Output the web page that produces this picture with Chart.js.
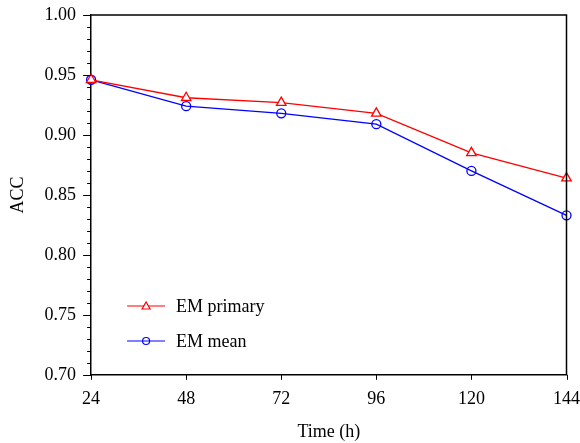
<!DOCTYPE html>
<html>
<head>
<meta charset="utf-8">
<script src="https://cdn.jsdelivr.net/npm/chart.js@4.4.0/dist/chart.umd.min.js"></script>
<style>
  html, body { margin: 0; padding: 0; background: #fff; }
  #wrap { width: 580px; height: 443px; }
</style>
</head>
<body>
<div id="wrap"><canvas id="myChart" width="580" height="443"></canvas></div>
<script>
// Data
var hours = [24, 48, 72, 96, 120, 144];
var emPrimary = [0.946, 0.931, 0.927, 0.918, 0.885, 0.864];
var emMean = [0.946, 0.924, 0.918, 0.909, 0.870, 0.833];
var xTicks = [24, 48, 72, 96, 120, 144];
var yMin = 0.70, yMax = 1.00, yStep = 0.05, yMinorStep = 0.01;

var font = "'Liberation Serif', 'Times New Roman', serif";
var fontSize = 18;

function toPoints(xs, ys) {
    return xs.map(function (x, i) { return { x: x, y: ys[i] }; });
}

// Frame on top/right, plus the outward tick marks (major + minor on y)
var framePlugin = {
    id: "frame",
    afterDraw: function (chart) {
        var ctx = chart.ctx, a = chart.chartArea;
        var x = chart.scales.x, y = chart.scales.y;
        ctx.save();
        ctx.strokeStyle = "#000";
        ctx.lineWidth = 1.5;
        ctx.beginPath();
        ctx.moveTo(a.left, a.top);
        ctx.lineTo(a.right, a.top);
        ctx.lineTo(a.right, a.bottom);
        ctx.stroke();
        ctx.lineWidth = 1;
        for (var v = yMin; v <= yMax + 1e-9; v += yMinorStep) {
            var major = Math.round(v * 100) % 5 === 0;
            var py = Math.round(y.getPixelForValue(v)) + 0.5;
            ctx.beginPath();
            ctx.moveTo(a.left - (major ? 8 : 4), py);
            ctx.lineTo(a.left, py);
            ctx.stroke();
        }
        xTicks.forEach(function (t) {
            var px = Math.round(x.getPixelForValue(t)) + 0.5;
            ctx.beginPath();
            ctx.moveTo(px, a.bottom);
            ctx.lineTo(px, a.bottom + 5);
            ctx.stroke();
        });
        ctx.restore();
    }
};

// Legend drawn inside the plot, bottom left
var legendPlugin = {
    id: "innerLegend",
    afterDatasetsDraw: function (chart) {
        var ctx = chart.ctx, a = chart.chartArea;
        ctx.save();
        ctx.font = "18px " + font;
        ctx.textBaseline = "middle";
        chart.data.datasets.forEach(function (ds, i) {
            var yy = 306 + i * 35;
            var x0 = a.left + 36, x1 = a.left + 74, xm = (x0 + x1) / 2;
            ctx.strokeStyle = ds.borderColor;
            ctx.lineWidth = 1.2;
            ctx.beginPath();
            ctx.moveTo(x0, yy);
            ctx.lineTo(x1, yy);
            ctx.stroke();
            ctx.beginPath();
            if (ds.pointStyle === "triangle") {
                ctx.moveTo(xm, yy - 4);
                ctx.lineTo(xm + 4, yy + 3);
                ctx.lineTo(xm - 4, yy + 3);
                ctx.closePath();
                ctx.fillStyle = "#fff";
                ctx.fill();
            } else {
                ctx.arc(xm, yy, 3.5, 0, Math.PI * 2);
            }
            ctx.stroke();
            ctx.fillStyle = "#000";
            ctx.fillText(ds.label, x1 + 11, yy + 1);
        });
        ctx.restore();
    }
};

var ctx = document.getElementById("myChart").getContext("2d");
var accChart = new Chart(ctx, {
    type: "line",
    data: {
        datasets: [{
            label: "EM primary",
            data: toPoints(hours, emPrimary),
            borderColor: "#ff0000",
            backgroundColor: "#ffffff",
            borderWidth: 1.3,
            pointStyle: "triangle",
            pointRadius: 5.5,
            pointBorderWidth: 1.3,
            clip: false,
        }, {
            label: "EM mean",
            data: toPoints(hours, emMean),
            borderColor: "#0000ff",
            backgroundColor: "transparent",
            borderWidth: 1.3,
            pointStyle: "circle",
            pointRadius: 4.5,
            pointBorderWidth: 1.3,
            clip: false,
        }],
    },
    options: {
        responsive: false,
        animation: false,
        layout: { padding: { top: 15, right: 0, left: 7, bottom: 0 } },
        plugins: {
            legend: { display: false },
            tooltip: { enabled: false },
        },
        scales: {
            x: {
                type: "linear",
                min: hours[0],
                max: hours[hours.length - 1],
                afterBuildTicks: function (axis) {
                    axis.ticks = xTicks.map(function (v) { return { value: v }; });
                },
                grid: { drawOnChartArea: false, tickLength: 14, tickColor: "transparent" },
                border: { color: "#000", width: 1.5 },
                ticks: { color: "#000", font: { family: font, size: fontSize }, padding: 0, maxRotation: 0 },
                title: { display: true, text: "Time (h)", color: "#000", font: { family: font, size: fontSize }, padding: { top: 11, bottom: 0 } },
            },
            y: {
                min: yMin,
                max: yMax,
                ticks: {
                    stepSize: yStep,
                    color: "#000",
                    font: { family: font, size: fontSize },
                    padding: 0,
                    callback: function (v) { return v.toFixed(2); },
                },
                grid: { drawOnChartArea: false, tickLength: 15, tickColor: "transparent" },
                border: { color: "#000", width: 1.5 },
                title: { display: true, text: "ACC", color: "#000", font: { family: font, size: fontSize }, padding: { top: 0, bottom: 16 } },
            },
        },
    },
    plugins: [framePlugin, legendPlugin],
});
</script>
</body>
</html>
